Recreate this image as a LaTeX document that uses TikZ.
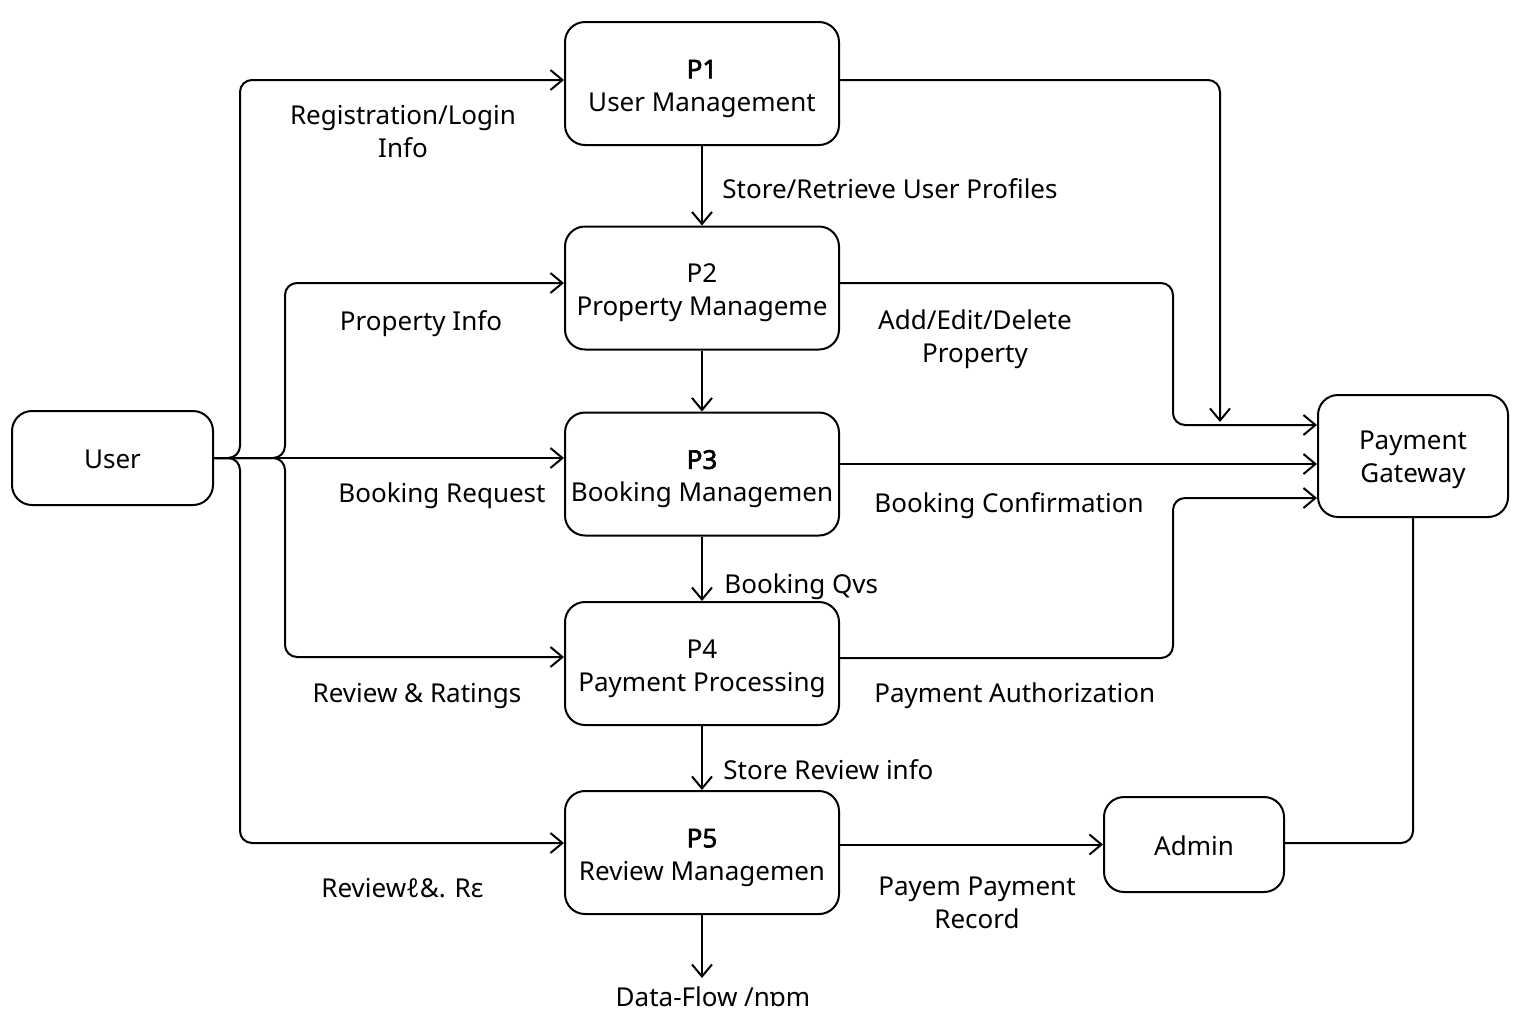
\documentclass[tikz,border=0pt]{standalone}
\usepackage{fontspec}
\setmainfont{Noto Sans}[AutoFakeBold=2.5]
\usetikzlibrary{arrows.meta,calc}
\newcommand{\tstrut}{\rule{0pt}{14.5pt}}
\begin{document}
\begin{tikzpicture}[x=0.5pt,y=-0.5pt,
  every node/.style={font=\fontsize{13pt}{16.5pt}\selectfont},
  proc/.style={draw,line width=1pt,rounded corners=10pt,minimum width=137pt,minimum height=61.5pt,inner sep=0pt,align=center},
  ext/.style={draw,line width=1pt,rounded corners=10pt,inner sep=0pt,align=center},
  lbl/.style={inner sep=0pt,align=center},
  lbll/.style={inner sep=0pt,anchor=west},
  flow/.style={line width=1pt,rounded corners=6pt,-{Straight Barb[length=6pt,width=10pt,line width=1pt]}},
  link/.style={line width=1pt,rounded corners=6pt}]
\useasboundingbox (0,0) rectangle (1536,1024);
% nodes
\node[ext,minimum width=100.5pt,minimum height=47pt] (user) at (112.5,458) {\rule{0pt}{11pt}User};
\node[proc] (p1) at (702,83.5) {\tstrut\textbf{P1}\\User Management};
\node[proc] (p2) at (702,288) {\tstrut P2\\Property Manageme};
\node[proc] (p3) at (702,474) {\tstrut\textbf{P3}\\Booking Managemen};
\node[proc] (p4) at (702,663.5) {\tstrut P4\\Payment Processing};
\node[proc] (p5) at (702,852.5) {\tstrut\textbf{P5}\\Review Managemen};
\node[ext,minimum width=95pt,minimum height=61pt] (pg) at (1413,456) {\rule{0pt}{13.5pt}Payment\\Gateway};
\node[ext,minimum width=90pt,minimum height=47.5pt] (admin) at (1194,844.5) {\rule{0pt}{11pt}Admin};
\node[lbl] (df) at (713,997) {Data-Flow /nɒm};
% labels
\node[lbl] (l1) at (403,132) {Registration/Login\\Info};
\node[lbll] (l2) at (722,189) {Store/Retrieve User Profiles};
\node[lbl] (l3) at (421,324) {Property Info};
\node[lbl] (l4) at (975,339) {Add/Edit/Delete\\Property};
\node[lbl] (l5) at (442,496) {Booking Request};
\node[lbll] (l6) at (874,506) {Booking Confirmation};
\node[lbll] (l7) at (724,587) {Booking Qvs};
\node[lbl] (l8) at (417,696) {Review \& Ratings};
\node[lbll] (l9) at (874,696) {Payment Authorization};
\node[lbll] (l10) at (723,770) {Store Review info};
\node[lbll] (l11) at (321,888) {Reviewℓ\&. Rɛ};
\node[lbl] (l12) at (977,903) {Payem Payment\\Record};
% bend coordinates
\coordinate (ba) at (240,80);
\coordinate (bb) at (285,283);
\coordinate (bc) at (285,657);
\coordinate (bd) at (240,843);
\coordinate (ce) at (1220,422);
\coordinate (cf) at (1173,425);
\coordinate (cg) at (1173,498);
\coordinate (dfe) at (702,978);
% user flows
\draw[flow] (user.east) -| (ba) -- (ba -| p1.west);
\draw[flow] (user.east) -| (bb) -- (bb -| p2.west);
\draw[flow] (user.east) -- (user.east -| p3.west);
\draw[flow] (user.east) -| (bc) -- (bc -| p4.west);
\draw[flow] (user.east) -| (bd) -- (bd -| p5.west);
% vertical chain
\draw[flow] (p1.south) -- (p2.north);
\draw[flow] (p2.south) -- (p3.north);
\draw[flow] (p3.south) -- (p4.north);
\draw[flow] (p4.south) -- (p5.north);
\draw[flow] (p5.south) -- (dfe);
% to payment gateway
\draw[flow] ([yshift=1.75pt]p1.east) -| (ce);
\draw[flow] ([yshift=2.5pt]p2.east) -| (cf) -- (cf -| pg.west);
\draw[flow] ([yshift=5pt]p3.east) -- ([yshift=5pt]p3.east -| pg.west);
\draw[flow] ([yshift=2.75pt]p4.east) -| (cg) -- (cg -| pg.west);
\draw[flow] (p5.east |- admin.west) -- (admin.west);
\draw[link] ([yshift=0.75pt]admin.east) -| (pg.south);
\end{tikzpicture}
\end{document}
